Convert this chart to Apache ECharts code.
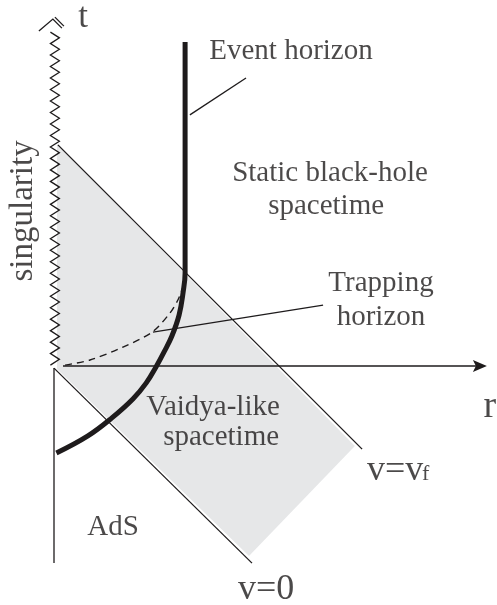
<!DOCTYPE html>
<html><head><meta charset="utf-8">
<script src="https://cdn.jsdelivr.net/npm/echarts@6/dist/echarts.min.js"></script>
<style>html,body{margin:0;padding:0;background:#fff;}#c{width:497px;height:605px;}</style>
</head><body><div id="c"></div><script>
// Diagram coordinates: r (horizontal), t (vertical); origin at the axis crossing.
const singularity = [[0.03, 0.03], [0.03, 11.13]];
const rAxisLine = [[0.3, 0], [14.43, 0]];
const shadeRegion = [[0.1, 7.4], [10.03, -2.67], [6.5, -6.33], [0.1, -0.1]];
const lineVf = [[0.13, 7.37], [10.27, -2.77]];
const lineV0 = [[0, -0.07], [6.6, -6.57]];
const adsBoundary = [[0, -0.07], [0, -6.57]];
const eventHorizon = [[4.37, 10.8], [4.37, 3.53]];
const horizonCurve = [[4.37, 3.53], [4.37, 3.1], [4.3, 2.43], [4.17, 1.7], [3.93, 1.0], [3.67, 0.47], [3.4, -0.03], [3.07, -0.57], [2.63, -1.1], [1.93, -1.73], [1.13, -2.33], [0.08, -2.9]];
const trappingCurve = [[0.37, 0.03], [1.2, 0.2], [2.3, 0.63], [3.27, 1.13], [3.87, 1.77], [4.13, 2.2], [4.3, 2.63]];
const eventPointer = [[4.53, 8.37], [6.4, 9.6]];
const trappingPointer = [[3.3, 1.13], [8.97, 2.03]];
const labelText = ['t', 'Event horizon', 'Static black-hole', 'spacetime', 'Trapping', 'horizon', 'Vaidya-like', 'spacetime', 'r', 'v=v', 'f', 'AdS', 'v=0', 'singularity'];
const labelPos = [[0.97, 11.6], [7.9, 10.48], [9.2, 6.42], [9.07, 5.32], [10.9, 2.75], [10.9, 1.62], [5.3, -1.38], [5.57, -2.38], [14.53, -1.37], [10.43, -3.47], [12.27, -3.6], [1.97, -5.38], [7.07, -7.45], [-1.03, 5.17]];
const labelSize = [35, 29, 29, 29, 29, 29, 29, 29, 38, 36, 22, 29, 36, 33];
const labelAlign = ['center', 'center', 'center', 'center', 'center', 'center', 'center', 'center', 'center', 'left', 'left', 'center', 'center', 'center'];
const labelRotate = [0, 0, 0, 0, 0, 0, 0, 0, 0, 0, 0, 0, 0, 90];

const ink = '#1e1b1c';
const font = "'Liberation Serif', 'Times New Roman', serif";
const chart = echarts.init(document.getElementById('c'), null, {renderer: 'canvas'});

function lineSeries(data, opts) {
  return Object.assign({type: 'line', data: data, symbol: 'none', silent: true, z: 3,
    lineStyle: {color: ink, width: 1.3}}, opts || {});
}

const option = {
  animation: false,
  grid: {left: 0, top: 0, width: 497, height: 605, containLabel: false},
  xAxis: {type: 'value', min: -1.8, max: 14.7667, show: false},
  yAxis: {type: 'value', min: -7.9667, max: 12.2, show: false},
  series: [
    {type: 'custom', coordinateSystem: 'cartesian2d', silent: true, z: 1, clip: false, data: [[0, 0]],
      renderItem: function (params, api) {
        return {type: 'polygon', shape: {points: shadeRegion.map(p => api.coord(p))}, style: {fill: '#e6e7e8'}};
      }},
    lineSeries(lineVf),
    lineSeries(lineV0),
    lineSeries(adsBoundary),
    lineSeries(eventPointer),
    lineSeries(trappingPointer),
    lineSeries(trappingCurve, {smooth: 0.3, lineStyle: {color: ink, width: 1.4, type: [7, 5]}}),
    lineSeries(eventHorizon, {z: 4, lineStyle: {color: ink, width: 5}}),
    lineSeries(horizonCurve, {smooth: 0.4, z: 4, lineStyle: {color: ink, width: 5}}),
    {type: 'custom', coordinateSystem: 'cartesian2d', silent: true, z: 3, clip: false, data: [[0, 0]],
      renderItem: function (params, api) {
        const a = api.coord(rAxisLine[0]), b = api.coord(rAxisLine[1]);
        return {type: 'group', children: [
          {type: 'line', shape: {x1: a[0], y1: a[1], x2: b[0] - 8, y2: b[1]}, style: {stroke: ink, lineWidth: 1.3}},
          {type: 'polygon', shape: {points: [[b[0], b[1]], [b[0] - 14, b[1] - 6], [b[0] - 11, b[1]], [b[0] - 14, b[1] + 6]]}, style: {fill: ink}}
        ]};
      }},
    {type: 'custom', coordinateSystem: 'cartesian2d', silent: true, z: 3, clip: false, data: [[0, 0]],
      renderItem: function (params, api) {
        const a = api.coord(singularity[0]), b = api.coord(singularity[1]);
        const step = 5.7, amp = 4.5;
        const n = Math.round((a[1] - b[1]) / step);
        const pts = [];
        for (let i = 0; i <= n; i++) {
          const y = a[1] - (a[1] - b[1]) * i / n;
          pts.push([a[0] + (i % 2 ? amp : -amp), y]);
        }
        const st = {stroke: ink, lineWidth: 1.3, fill: null};
        return {type: 'group', children: [
          {type: 'polyline', shape: {points: pts}, style: st},
          {type: 'polyline', shape: {points: [[b[0] - 16, b[1] - 1], [b[0] - 2, b[1] - 13], [b[0] + 7, b[1] - 4]]}, style: st},
          {type: 'line', shape: {x1: b[0] + 0, y1: b[1] - 15, x2: b[0] + 9, y2: b[1] - 6}, style: st}
        ]};
      }},
    {type: 'scatter', silent: true, z: 10, symbolSize: 1, itemStyle: {color: 'rgba(0,0,0,0)'},
      data: labelText.map((s, i) => ({
        value: labelPos[i],
        label: {show: true, position: 'inside', formatter: s, color: ink, fontFamily: font,
          fontSize: labelSize[i], align: labelAlign[i], verticalAlign: 'middle', rotate: labelRotate[i]}
      }))}
  ]
};
chart.setOption(option);
</script></body></html>
